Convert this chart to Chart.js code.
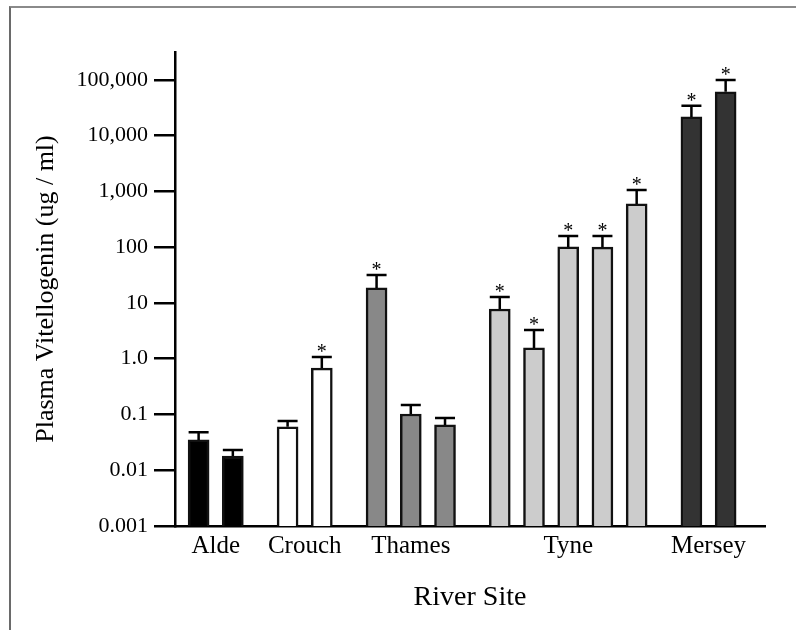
<!DOCTYPE html>
<html lang="en">
<head>
  <meta charset="UTF-8">
  <title>Plasma Vitellogenin by River Site</title>
  <script src="https://cdn.jsdelivr.net/npm/chart.js"></script>
  <style>
    body { margin: 0; background: #fff; }
    #frame { position: absolute; left: 9px; top: 6px; width: 800px; height: 640px;
             border-top: 2px solid #8a8a8a; border-left: 2px solid #6a6a6a; }
    #vtgChart { position: absolute; left: 0; top: 0; }
  </style>
</head>
<body>
  <div id="frame"></div>
  <canvas id="vtgChart" width="796" height="630"></canvas>

  <script>
    // River sites, in order along the x axis
    const sites = ['Alde', 'Crouch', 'Thames', 'Tyne', 'Mersey'];
    // which site each bar belongs to
    const barSite = ['Alde', 'Alde', 'Crouch', 'Crouch', 'Thames', 'Thames', 'Thames',
                     'Tyne', 'Tyne', 'Tyne', 'Tyne', 'Tyne', 'Mersey', 'Mersey'];
    // mean plasma vitellogenin (ug/ml)
    const meanVtg = [0.035, 0.018, 0.06, 0.68, 18.6, 0.102, 0.065,
                     7.8, 1.56, 101, 100, 597, 21700, 61000];
    // top of the error bar (mean + SE)
    const upperVtg = [0.048, 0.023, 0.076, 1.07, 31.8, 0.148, 0.0865,
                      12.8, 3.28, 159, 159, 1064, 34200, 100000];
    // asterisk = significantly different
    const signif = [false, false, false, true, true, false, false,
                    true, true, true, true, true, true, true];
    const yTicks = [0.001, 0.01, 0.1, 1, 10, 100, 1000, 10000, 100000];
    const yTickLabels = ['0.001', '0.01', '0.1', '1.0', '10', '100', '1,000', '10,000', '100,000'];

    const siteFill = { Alde: '#000000', Crouch: '#ffffff', Thames: '#888888', Tyne: '#cccccc', Mersey: '#333333' };
    const groupGap = 0.6;

    // bar positions on the x scale: one unit per bar, plus a gap between sites
    const barPos = barSite.map((s, i) => i + groupGap * sites.indexOf(s));
    const siteCentre = sites.map(s => {
      const p = barPos.filter((_, i) => barSite[i] === s);
      return (p[0] + p[p.length - 1]) / 2;
    });

    Chart.defaults.font.family = "'Liberation Serif', 'Times New Roman', serif";
    Chart.defaults.color = '#000';

    // error bars (upper only) and asterisks
    const errorBars = {
      id: 'errorBars',
      afterDatasetsDraw(chart) {
        const ctx = chart.ctx;
        const y = chart.scales.y;
        const meta = chart.getDatasetMeta(0);
        ctx.save();
        ctx.strokeStyle = '#000';
        ctx.lineWidth = 2.5;
        ctx.fillStyle = '#000';
        ctx.font = "20px 'Liberation Serif', serif";
        ctx.textAlign = 'center';
        ctx.textBaseline = 'alphabetic';
        meta.data.forEach((bar, i) => {
          const top = y.getPixelForValue(upperVtg[i]);
          ctx.beginPath();
          ctx.moveTo(bar.x, bar.y);
          ctx.lineTo(bar.x, top);
          ctx.moveTo(bar.x - 10, top);
          ctx.lineTo(bar.x + 10, top);
          ctx.stroke();
          if (signif[i]) ctx.fillText('*', bar.x, top + 1);
        });
        ctx.restore();
      }
    };

    const ctx = document.getElementById('vtgChart').getContext('2d');
    new Chart(ctx, {
      type: 'bar',
      data: {
        datasets: [{
          data: meanVtg.map((v, i) => ({ x: barPos[i], y: v })),
          backgroundColor: barSite.map(s => siteFill[s]),
          borderColor: '#111',
          borderWidth: 2.5,
          borderSkipped: 'bottom',
          barThickness: 21
        }]
      },
      options: {
        responsive: false,
        animation: false,
        layout: { padding: { left: 10, top: 52, right: 31, bottom: 6 } },
        plugins: { legend: { display: false }, tooltip: { enabled: false } },
        scales: {
          x: {
            type: 'linear',
            offset: false,
            min: -0.69,
            max: 16.55,
            afterFit: s => { s.height = 98; },
            afterBuildTicks: s => { s.ticks = siteCentre.map(v => ({ value: v })); },
            grid: { display: false, drawTicks: false, offset: false },
            border: { display: true, color: '#000', width: 2.5 },
            ticks: {
              padding: 5,
              font: { size: 25 },
              callback: (v, i) => sites[i]
            },
            title: {
              display: true,
              text: 'River Site',
              font: { size: 28 },
              padding: { top: 0, bottom: 10 }
            }
          },
          y: {
            type: 'logarithmic',
            min: 0.001,
            max: 316228,
            afterFit: s => { s.width = 165; },
            afterBuildTicks: s => { s.ticks = yTicks.map(v => ({ value: v })); },
            grid: { drawOnChartArea: false, drawTicks: true, tickLength: 21, color: '#000', lineWidth: 2.5 },
            border: { display: true, color: '#000', width: 2.5 },
            ticks: {
              padding: 6,
              font: { size: 22 },
              callback: (v, i) => yTickLabels[i]
            },
            title: {
              display: true,
              text: 'Plasma Vitellogenin (ug / ml)',
              font: { size: 26 },
              padding: { top: 21, bottom: 0 }
            }
          }
        }
      },
      plugins: [errorBars]
    });
  </script>
</body>
</html>
